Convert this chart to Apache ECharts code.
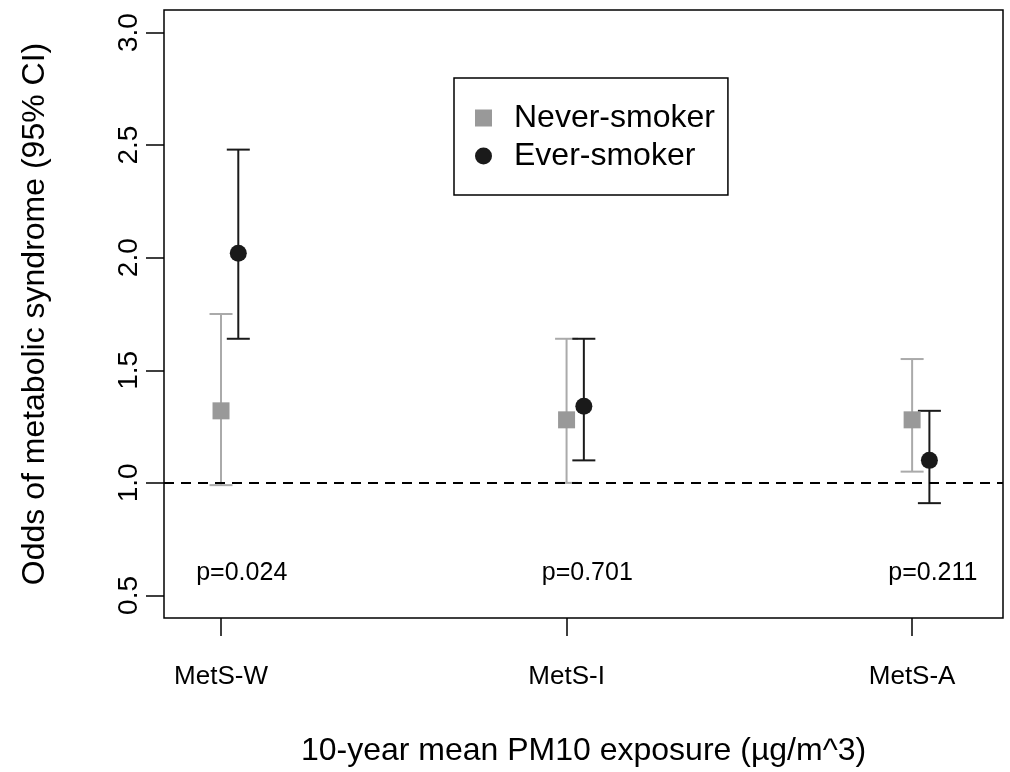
<!DOCTYPE html>
<html>
<head>
<meta charset="utf-8">
<script src="https://cdn.jsdelivr.net/npm/echarts@6/dist/echarts.min.js"></script>
<style>
  html, body { margin: 0; padding: 0; background: #fff; }
  #chart { width: 1010px; height: 772px; }
</style>
</head>
<body>
<div id="chart"></div>
<script>
// categories and odds ratios with 95% CI
const categories = ['MetS-W', 'MetS-I', 'MetS-A'];
const neverOR = [1.32, 1.28, 1.28];
const neverLow = [0.99, 1.00, 1.05];
const neverHigh = [1.75, 1.64, 1.55];
const everOR = [2.02, 1.34, 1.10];
const everLow = [1.64, 1.10, 0.91];
const everHigh = [2.48, 1.64, 1.32];
const pValues = ['p=0.024', 'p=0.701', 'p=0.211'];
const pLabelY = 0.6;
const yTicks = [0.5, 1.0, 1.5, 2.0, 2.5, 3.0];
const xTicks = [1, 2, 3];

const font = 'Liberation Sans, Arial, sans-serif';
const greyPoint = '#999999';
const greyBar = '#aaaaaa';
const darkColor = '#1a1a1a';
const everShift = 0.05;
const pShift = 0.06;

function errorBars(color) {
    return function (params, api) {
        const x = api.value(0);
        const lo = api.coord([x, api.value(1)]);
        const hi = api.coord([x, api.value(2)]);
        const half = 11.5;
        const style = { stroke: color, lineWidth: 2 };
        return {
            type: 'group',
            children: [
                { type: 'line', shape: { x1: lo[0], y1: lo[1], x2: hi[0], y2: hi[1] }, style: style },
                { type: 'line', shape: { x1: lo[0] - half, y1: lo[1], x2: lo[0] + half, y2: lo[1] }, style: style },
                { type: 'line', shape: { x1: hi[0] - half, y1: hi[1], x2: hi[0] + half, y2: hi[1] }, style: style }
            ]
        };
    };
}

function pText(params, api) {
    const pos = api.coord([api.value(0), api.value(1)]);
    return {
        type: 'text',
        x: pos[0], y: pos[1],
        style: {
            text: pValues[params.dataIndex],
            fill: '#000',
            fontSize: 25,
            fontFamily: font,
            align: 'center',
            verticalAlign: 'middle'
        }
    };
}

const chart = echarts.init(document.getElementById('chart'), null, { renderer: 'canvas' });

chart.setOption({
    backgroundColor: '#fff',
    animation: false,
    textStyle: { fontFamily: font },
    grid: {
        left: 164, right: 7, top: 10, bottom: 153,
        show: true, borderColor: '#000', borderWidth: 1.5
    },
    legend: {
        orient: 'vertical',
        left: 454, top: 78,
        padding: [24, 13, 23, 21],
        itemWidth: 17, itemHeight: 17, itemGap: 6,
        borderColor: '#000', borderWidth: 1.5,
        textStyle: { fontSize: 32, lineHeight: 31, color: '#000', fontFamily: font, padding: [0, 0, 0, 17] },
        data: [
            { name: 'Never-smoker', icon: 'rect' },
            { name: 'Ever-smoker', icon: 'circle' }
        ]
    },
    xAxis: {
        type: 'value',
        min: 0.835, max: 3.263,
        name: '10-year mean PM10 exposure (µg/m^3)',
        nameLocation: 'middle',
        nameGap: 117,
        nameTextStyle: { fontSize: 32, color: '#000', fontFamily: font },
        axisLine: { show: false },
        axisTick: { show: true, length: 18, customValues: xTicks, lineStyle: { color: '#000', width: 1.5 } },
        axisLabel: {
            customValues: xTicks, margin: 46, fontSize: 26, color: '#000', fontFamily: font,
            formatter: (v) => categories[Math.round(v) - 1]
        },
        splitLine: { show: false }
    },
    yAxis: {
        type: 'value',
        min: 0.4, max: 3.1,
        name: 'Odds of metabolic syndrome (95% CI)',
        nameLocation: 'middle',
        nameGap: 113,
        nameTextStyle: { fontSize: 32, color: '#000', fontFamily: font },
        axisLine: { show: false },
        axisTick: { show: true, length: 18, customValues: yTicks, lineStyle: { color: '#000', width: 1.5 } },
        axisLabel: {
            customValues: yTicks, rotate: 90, margin: 21, fontSize: 28, color: '#000', fontFamily: font,
            formatter: (v) => v.toFixed(1)
        },
        splitLine: { show: false }
    },
    series: [
        {
            name: 'never-ci',
            type: 'custom',
            renderItem: errorBars(greyBar),
            data: categories.map((c, i) => [i + 1, neverLow[i], neverHigh[i]]),
            z: 2,
            silent: true,
            markLine: {
                silent: true,
                symbol: 'none',
                label: { show: false },
                lineStyle: { color: '#000', width: 2, type: [10, 7] },
                data: [{ yAxis: 1 }]
            }
        },
        {
            name: 'ever-ci',
            type: 'custom',
            renderItem: errorBars(darkColor),
            data: categories.map((c, i) => [i + 1 + everShift, everLow[i], everHigh[i]]),
            z: 2,
            silent: true
        },
        {
            name: 'Never-smoker',
            type: 'scatter',
            symbol: 'rect',
            symbolSize: 17,
            itemStyle: { color: greyPoint, opacity: 1 },
            data: categories.map((c, i) => [i + 1, neverOR[i]]),
            z: 3
        },
        {
            name: 'Ever-smoker',
            type: 'scatter',
            symbol: 'circle',
            symbolSize: 17,
            itemStyle: { color: darkColor, opacity: 1 },
            data: categories.map((c, i) => [i + 1 + everShift, everOR[i]]),
            z: 3
        },
        {
            name: 'p-values',
            type: 'custom',
            renderItem: pText,
            silent: true,
            data: categories.map((c, i) => [i + 1 + pShift, pLabelY]),
            z: 4
        }
    ]
});
</script>
</body>
</html>
